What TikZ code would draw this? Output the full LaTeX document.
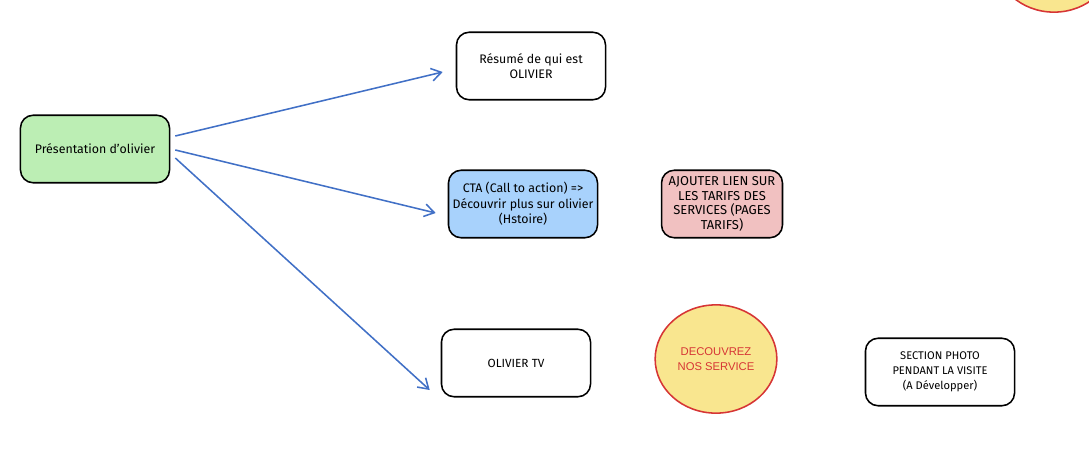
\documentclass[tikz,border=0pt]{standalone}
\usepackage{fontspec}
\setmainfont{Fira Sans}
\newfontfamily\labelfont{Liberation Sans}
\usepackage{tikz}
\usetikzlibrary{arrows.meta, calc}

\definecolor{boxgreen}{HTML}{BCEEB4}
\definecolor{boxblue}{HTML}{A8D2FC}
\definecolor{boxpink}{HTML}{F1C1C1}
\definecolor{circyellow}{HTML}{F9E68F}
\definecolor{circred}{HTML}{D63535}
\definecolor{arrblue}{HTML}{4170C6}

\tikzset{
  card/.style = {draw=black, line width=1.1pt, rounded corners=9pt,
    minimum width=106pt, minimum height=48pt, align=center,
    inner sep=1pt, font=\fontsize{8.8}{11}\selectfont},
  capsfont/.style = {font=\fontsize{7.9}{10.6}\selectfont},
  bubble/.style = {draw=circred, line width=1.1pt, fill=circyellow, ellipse,
    minimum width=85pt, minimum height=77pt, align=center, text=circred,
    font=\labelfont\fontsize{8}{11}\selectfont},
  link/.style = {arrblue, line width=1.1pt, -{Straight Barb[length=7pt, width=9pt]}}
}

\usetikzlibrary{shapes.geometric}

\begin{document}
\begin{tikzpicture}[x=0.025cm, y=-0.025cm]
\useasboundingbox (0, 0) rectangle (1089, 465);

\node[bubble] (topcirc) at (1054, -42) {};

\node[card, fill=boxgreen] (presentation) at (95, 149) {Présentation d'olivier};
\node[card] (resume) at (531, 66) {Résumé de qui est\\OLIVIER};
\node[card, fill=boxblue] (cta) at (523, 204) {CTA (Call to action) =>\\Découvrir plus sur olivier\\(Hstoire)};
\node[card, fill=boxpink, minimum width=86pt,
  font=\fontsize{9.2}{10.5}\selectfont] (tarifs) at (722, 204) {AJOUTER LIEN SUR\\LES TARIFS DES\\SERVICES (PAGES\\TARIFS)};
\node[card, font=\fontsize{8.4}{11}\selectfont] (tv) at (516, 363) {OLIVIER TV};
\node[bubble] (services) at (716, 359) {DECOUVREZ\\NOS SERVICE};
\node[card, capsfont] (photo) at (940, 372) {SECTION PHOTO\\PENDANT LA VISITE\\(A Développer)};

\draw[link] ($(presentation.east)+(5, -13)$) -- ($(resume.west)+(-13, 6)$);
\draw[link] ($(presentation.east)+(5, 1)$) -- ($(cta.west)+(-12, 9)$);
\draw[link] ($(presentation.east)+(5, 9)$) -- ($(tv.west)+(-11, 27)$);
\end{tikzpicture}
\end{document}
